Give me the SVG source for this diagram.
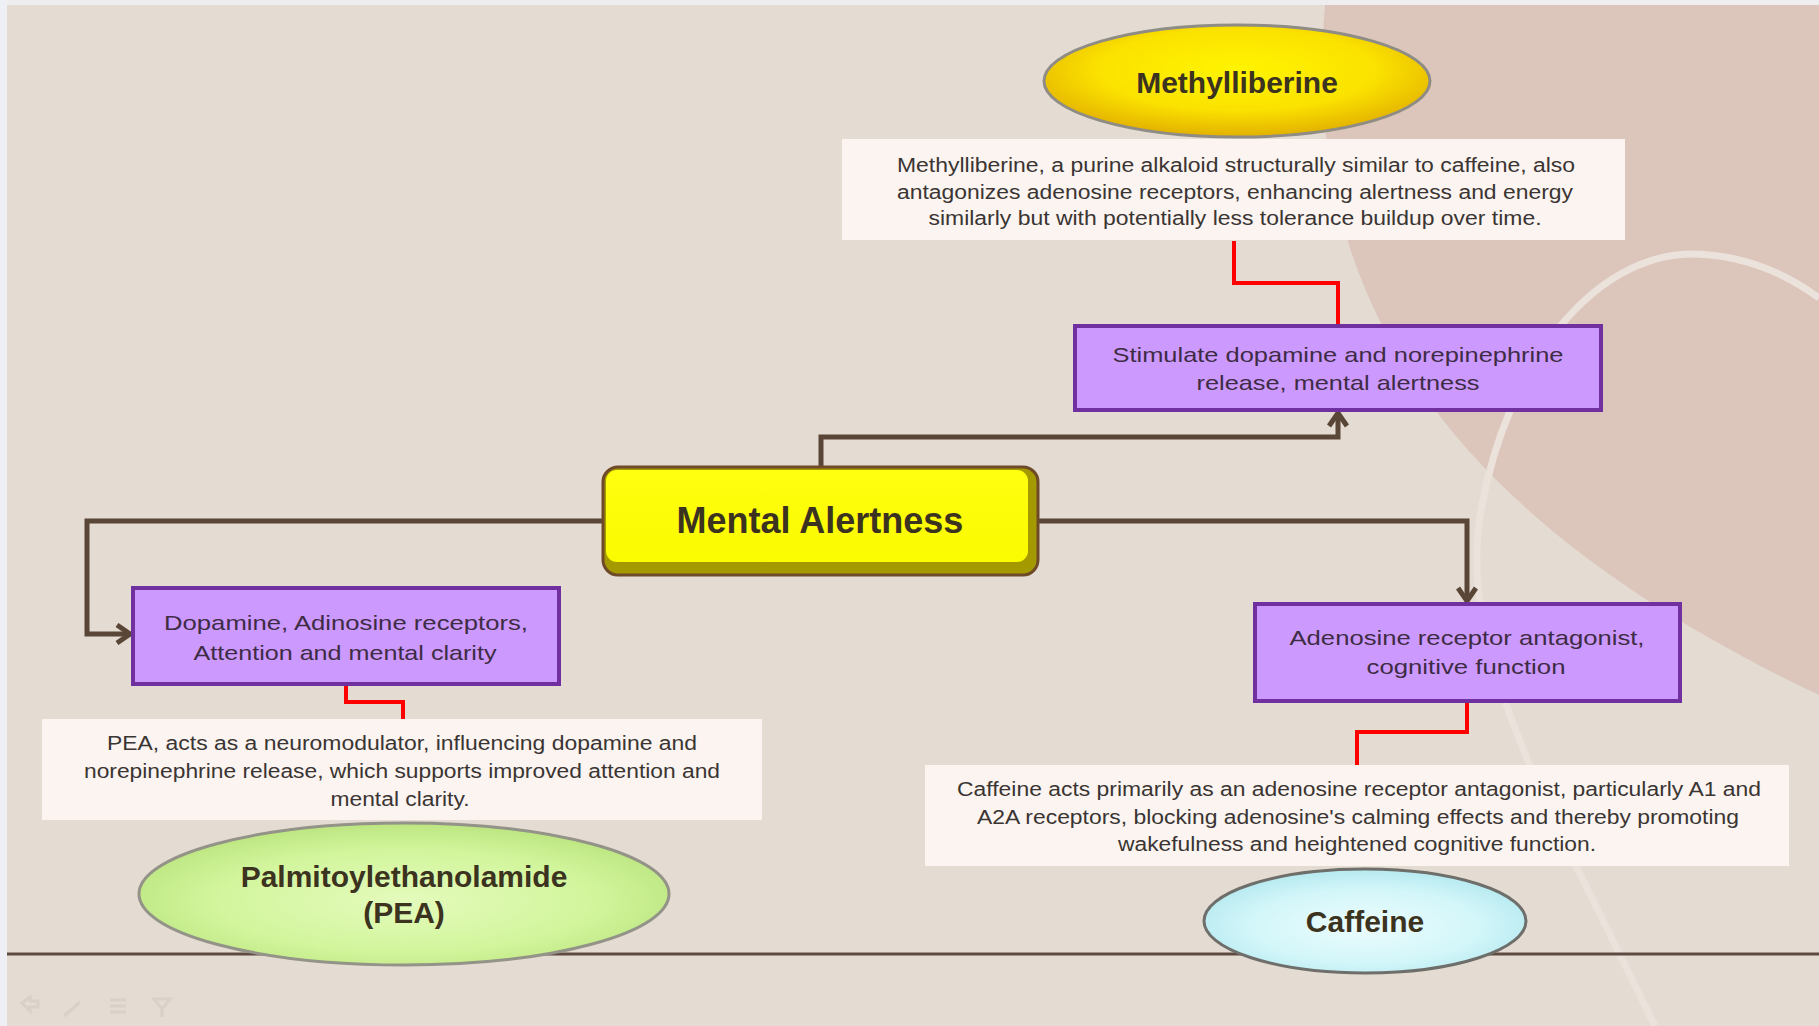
<svg xmlns="http://www.w3.org/2000/svg" width="1819" height="1026" viewBox="0 0 1819 1026">
<style>
.title{font-family:"Liberation Sans",Arial,sans-serif;font-weight:bold;font-size:30px;fill:#3b3320;text-anchor:middle}
.desc{font-family:"Liberation Sans",Arial,sans-serif;font-size:20px;fill:#3a3533;text-anchor:middle}
.ptext{font-family:"Liberation Sans",Arial,sans-serif;font-size:21px;fill:#3e2c44;text-anchor:middle}
.pbox{fill:#cc99ff;stroke:#7030a0;stroke-width:4}
.dbox{fill:#fbf4f0}
.conn{fill:none;stroke:#5a4637;stroke-width:5;stroke-linejoin:miter}
.red{fill:none;stroke:#ff0000;stroke-width:4}
</style>
<defs>
<marker id="arr" viewBox="0 0 20 22" refX="17" refY="11" markerWidth="20" markerHeight="22" markerUnits="userSpaceOnUse" orient="auto">
<path d="M4,2 L17,11 L4,20" fill="none" stroke="#5a4637" stroke-width="5"/>
</marker>
<radialGradient id="gYel" cx="50%" cy="40%" r="60%">
<stop offset="0" stop-color="#fff400"/><stop offset="0.6" stop-color="#fbe200"/><stop offset="1" stop-color="#e2b000"/>
</radialGradient>
<radialGradient id="gGrn" cx="50%" cy="55%" r="60%">
<stop offset="0" stop-color="#e4fbbc"/><stop offset="0.6" stop-color="#d2f59c"/><stop offset="1" stop-color="#b6e27a"/>
</radialGradient>
<radialGradient id="gCyan" cx="50%" cy="55%" r="60%">
<stop offset="0" stop-color="#ecfcfd"/><stop offset="0.6" stop-color="#d2f6f9"/><stop offset="1" stop-color="#aee6ee"/>
</radialGradient>
<linearGradient id="gMA" x1="0" y1="0" x2="0" y2="1">
<stop offset="0" stop-color="#ffff10"/><stop offset="1" stop-color="#fafa00"/>
</linearGradient>
</defs>
<!-- background -->
<rect x="0" y="0" width="1819" height="1026" fill="#e4dbd2"/>
<path d="M1325,5 C1300,300 1450,520 1819,695 L1819,5 Z" fill="#dcc6bb"/>
<path d="M1655,1026 C1555,820 1455,650 1481,510 C1508,360 1595,256 1690,254 C1750,254 1795,280 1819,298" fill="none" stroke="#ebe2db" stroke-width="7"/>
<rect x="0" y="0" width="1819" height="5" fill="#eeedf0"/>
<rect x="0" y="0" width="7" height="1026" fill="#eef0f5"/>
<line x1="7" y1="954" x2="1819" y2="954" stroke="#5e4a40" stroke-width="3"/>
<g fill="none" stroke="#d9d0c7" stroke-width="3">
<path d="M22,1003 l8,-6 l0,4 l8,0 l0,6 l-8,0 l0,4 z"/>
<path d="M64,1016 l16,-14"/>
<path d="M110,1000 h16 M110,1006 h16 M110,1012 h16"/>
<path d="M154,999 h16 l-8,10 z M162,1009 v8"/>
</g>
<!-- connectors -->
<g id="connectors">
<polyline class="conn" points="821,467 821,437 1338,437 1338,413" marker-end="url(#arr)"/>
<polyline class="conn" points="603,521 87,521 87,634 130,634" marker-end="url(#arr)"/>
<polyline class="conn" points="1038,521 1467,521 1467,601" marker-end="url(#arr)"/>
<polyline class="red" points="1234,241 1234,283 1338,283 1338,325"/>
<polyline class="red" points="346,685 346,702 403,702 403,719"/>
<polyline class="red" points="1467,702 1467,732 1357,732 1357,765"/>
</g>
<!-- Mental Alertness -->
<g id="mental-alertness">
<rect x="603" y="467" width="435" height="108" rx="15" fill="#a49a00" stroke="#6e4a28" stroke-width="3"/>
<rect x="606" y="470" width="422" height="92" rx="11" fill="url(#gMA)"/>
<text x="820" y="533" style="font-family:'Liberation Sans',Arial,sans-serif;font-weight:bold;font-size:36px;fill:#3b3320;text-anchor:middle">Mental Alertness</text>
</g>
<!-- Methylliberine -->
<g id="methylliberine">
<ellipse cx="1237" cy="81" rx="193" ry="56" fill="url(#gYel)" stroke="#8e8c84" stroke-width="3"/>
<text class="title" x="1237" y="93">Methylliberine</text>
</g>
<g id="methylliberine-desc">
<rect class="dbox" x="842" y="139" width="783" height="101"/>
<text class="desc" x="1236" y="172" textLength="678" lengthAdjust="spacingAndGlyphs">Methylliberine, a purine alkaloid structurally similar to caffeine, also</text>
<text class="desc" x="1235" y="199" textLength="676" lengthAdjust="spacingAndGlyphs">antagonizes adenosine receptors, enhancing alertness and energy</text>
<text class="desc" x="1235" y="225" textLength="613" lengthAdjust="spacingAndGlyphs">similarly but with potentially less tolerance buildup over time.</text>
</g>
<g id="stimulate">
<rect class="pbox" x="1075" y="326" width="526" height="84"/>
<text class="ptext" x="1338" y="362" textLength="451" lengthAdjust="spacingAndGlyphs">Stimulate dopamine and norepinephrine</text>
<text class="ptext" x="1338" y="390" textLength="283" lengthAdjust="spacingAndGlyphs">release, mental alertness</text>
</g>
<!-- PEA -->
<g id="dopamine">
<rect class="pbox" x="133" y="588" width="426" height="96"/>
<text class="ptext" x="346" y="630" textLength="364" lengthAdjust="spacingAndGlyphs">Dopamine, Adinosine receptors,</text>
<text class="ptext" x="345" y="660" textLength="303" lengthAdjust="spacingAndGlyphs">Attention and mental clarity</text>
</g>
<g id="pea-desc">
<rect class="dbox" x="42" y="719" width="720" height="101"/>
<text class="desc" x="402" y="750" textLength="590" lengthAdjust="spacingAndGlyphs">PEA, acts as a neuromodulator, influencing dopamine and</text>
<text class="desc" x="402" y="778" textLength="636" lengthAdjust="spacingAndGlyphs">norepinephrine release, which supports improved attention and</text>
<text class="desc" x="400" y="806" textLength="139" lengthAdjust="spacingAndGlyphs">mental clarity.</text>
</g>
<g id="pea">
<ellipse cx="404" cy="894" rx="265" ry="71" fill="url(#gGrn)" stroke="#939388" stroke-width="3"/>
<text class="title" x="404" y="887">Palmitoylethanolamide</text>
<text class="title" x="404" y="923">(PEA)</text>
</g>
<!-- Caffeine -->
<g id="adenosine">
<rect class="pbox" x="1255" y="604" width="425" height="97"/>
<text class="ptext" x="1467" y="645" textLength="355" lengthAdjust="spacingAndGlyphs">Adenosine receptor antagonist,</text>
<text class="ptext" x="1466" y="674" textLength="199" lengthAdjust="spacingAndGlyphs">cognitive function</text>
</g>
<g id="caffeine-desc">
<rect class="dbox" x="925" y="765" width="864" height="101"/>
<text class="desc" x="1359" y="796" textLength="804" lengthAdjust="spacingAndGlyphs">Caffeine acts primarily as an adenosine receptor antagonist, particularly A1 and</text>
<text class="desc" x="1358" y="824" textLength="762" lengthAdjust="spacingAndGlyphs">A2A receptors, blocking adenosine's calming effects and thereby promoting</text>
<text class="desc" x="1357" y="851" textLength="478" lengthAdjust="spacingAndGlyphs">wakefulness and heightened cognitive function.</text>
</g>
<g id="caffeine">
<ellipse cx="1365" cy="921" rx="161" ry="52" fill="url(#gCyan)" stroke="#6e6e6a" stroke-width="3"/>
<text class="title" x="1365" y="932">Caffeine</text>
</g>
</svg>
